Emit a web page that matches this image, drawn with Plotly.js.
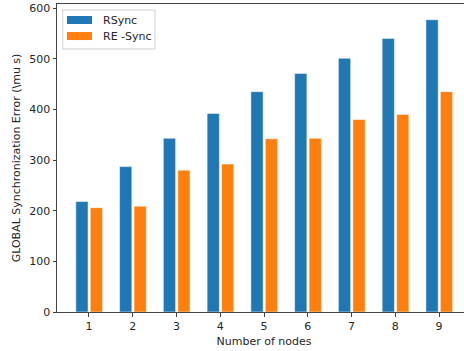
<!DOCTYPE html>
<html>
<head>
<meta charset="utf-8">
<script src="https://cdn.plot.ly/plotly-3.0.1.min.js"></script>
<style>
html,body{margin:0;padding:0;overflow:hidden;background:#fff;width:464px;height:351px;}
#chart{width:472px;height:351px;}
</style>
</head>
<body>
<div id="chart"></div>
<script>
// Data
const nodes = [1, 2, 3, 4, 5, 6, 7, 8, 9];
const seriesNames = ["RSync", "RE -Sync"];
const rsync = [218, 287, 343, 392, 435, 471, 501, 540, 577];
const resync = [206, 209, 280, 292, 342, 343, 380, 390, 435];
const yTicks = [0, 100, 200, 300, 400, 500, 600];

const colors = ["#1f77b4", "#ff7f0e"];
const font = {family: "DejaVu Sans, sans-serif", size: 11, color: "#262626"};

const traces = [
  {type: "bar", x: nodes, y: rsync, name: seriesNames[0], offset: -0.3, width: 0.28,
   marker: {color: colors[0], line: {color: "rgba(255,255,255,0.5)", width: 1}}, showlegend: false},
  {type: "bar", x: nodes, y: resync, name: seriesNames[1], offset: 0.03, width: 0.28,
   marker: {color: colors[1], line: {color: "rgba(255,255,255,0.5)", width: 1}}, showlegend: false}
];

// legend drawn in paper coordinates
const shapes = [
  {type: "rect", xref: "paper", yref: "paper", x0: 0.0138, x1: 0.2367, y0: 0.854, y1: 0.9805,
   line: {color: "#d0d0d0", width: 1}, fillcolor: "rgba(255,255,255,0.8)", layer: "above"},
  {type: "rect", xref: "paper", yref: "paper", x0: 0.0242, x1: 0.0845, y0: 0.935, y1: 0.961,
   line: {width: 0}, fillcolor: colors[0], layer: "above"},
  {type: "rect", xref: "paper", yref: "paper", x0: 0.0242, x1: 0.0845, y0: 0.883, y1: 0.909,
   line: {width: 0}, fillcolor: colors[1], layer: "above"}
];
const annotations = [
  {xref: "paper", yref: "paper", x: 0.1056, y: 0.948, xanchor: "left", yanchor: "middle",
   text: seriesNames[0], showarrow: false, font: font},
  {xref: "paper", yref: "paper", x: 0.1056, y: 0.896, xanchor: "left", yanchor: "middle",
   text: seriesNames[1], showarrow: false, font: font}
];

const layout = {
  width: 472, height: 351,
  margin: {l: 57, r: 1, t: 4, b: 39, pad: 0},
  paper_bgcolor: "#fff", plot_bgcolor: "#fff",
  font: font,
  barmode: "overlay",
  showlegend: false,
  xaxis: {
    range: [0.27, 9.73], tickmode: "array", tickvals: nodes, ticktext: nodes.map(String),
    showgrid: false, zeroline: false, showline: true, mirror: true, linecolor: "#444", linewidth: 1,
    ticks: "outside", ticklen: 3.5, tickcolor: "#444", tickfont: font,
    title: {text: "Number of nodes", font: font, standoff: 5}
  },
  yaxis: {
    range: [0, 608], tickmode: "array", tickvals: yTicks,
    showgrid: false, zeroline: false, showline: true, mirror: true, linecolor: "#444", linewidth: 1,
    ticks: "outside", ticklen: 3.5, tickcolor: "#444", tickfont: font,
    title: {text: "GLOBAL Synchronization Error (\\mu s)", font: font, standoff: 6}
  },
  shapes: shapes,
  annotations: annotations
};

Plotly.newPlot("chart", traces, layout, {staticPlot: true, displayModeBar: false});
</script>
</body>
</html>
